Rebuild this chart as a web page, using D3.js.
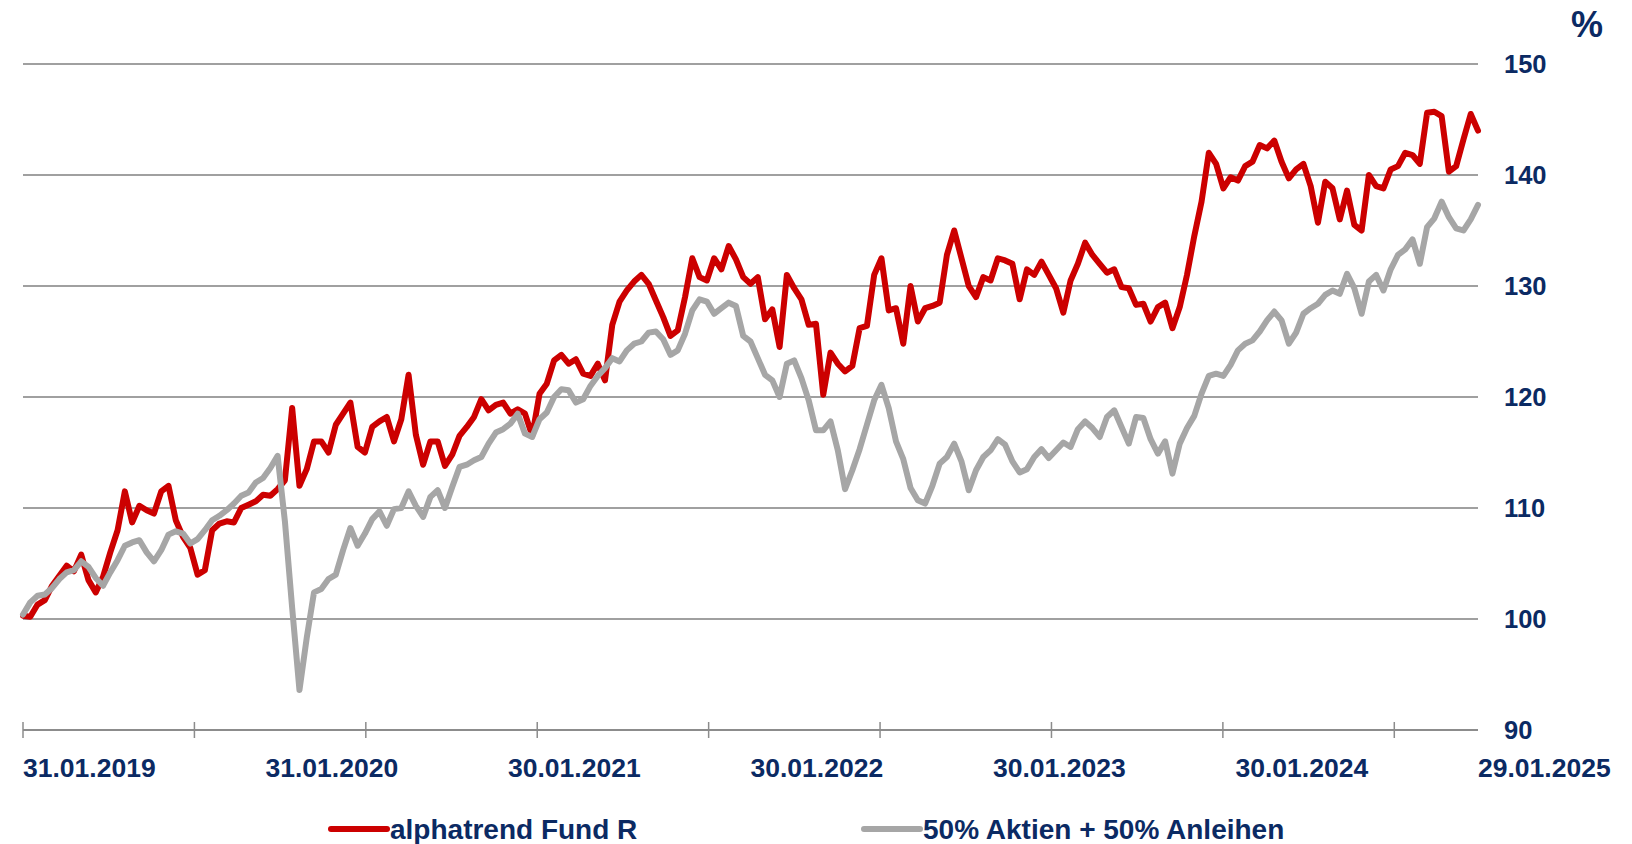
<!DOCTYPE html>
<html>
<head>
<meta charset="utf-8">
<script src="https://cdn.jsdelivr.net/npm/d3@7"></script>
<style>
  html, body { margin: 0; padding: 0; background: #fff; }
  svg { display: block; font-family: "Liberation Sans", Arial, sans-serif; font-weight: bold; }
</style>
</head>
<body>
<div id="chart"></div>
<script>
const colors = {
    fund: '#cc0000',
    bench: '#a6a6a6',
    grid: '#a0a0a0',
    axis: '#8c8c8c',
    text: '#0b2a63',
};

// first and last day of the series, values are evenly spaced in between
const startDate = new Date(2019, 0, 31);
const endDate = new Date(2025, 0, 29);

// alphatrend Fund R (indexed, start = 100)
const fundValues = [
    100.3, 100.2, 101.3, 101.7, 103.0, 103.9, 104.8, 104.3, 105.8, 103.5,
    102.4, 103.8, 106.0, 108.0, 111.5, 108.7, 110.2, 109.8, 109.5, 111.5,
    112.0, 108.9, 107.4, 106.4, 104.0, 104.4, 108.0, 108.6, 108.8, 108.7,
    110.0, 110.3, 110.6, 111.2, 111.1, 111.7, 112.5, 119.0, 112.0, 113.5,
    116.0, 116.0, 115.0, 117.5, 118.5, 119.5, 115.5, 115.0, 117.3, 117.8,
    118.2, 116.0, 118.0, 122.0, 116.6, 113.9, 116.0, 116.0, 113.8, 114.8,
    116.5, 117.3, 118.2, 119.8, 118.8, 119.3, 119.5, 118.5, 118.9, 118.5,
    116.5, 120.3, 121.2, 123.3, 123.8, 123.0, 123.4, 122.1, 121.9, 123.0,
    121.5, 126.5, 128.6, 129.6, 130.4, 131.0, 130.2, 128.7, 127.2, 125.5,
    126.0, 129.0, 132.5, 130.8, 130.5, 132.5, 131.5, 133.6, 132.4, 130.8,
    130.2, 130.8, 127.0, 127.9, 124.5, 131.0, 129.8, 128.8, 126.5, 126.6,
    120.2, 124.0, 123.0, 122.3, 122.8, 126.2, 126.4, 131.0, 132.5, 127.8,
    128.0, 124.8, 130.0, 126.8, 128.0, 128.2, 128.5, 132.8, 135.0, 132.5,
    130.0, 129.0, 130.8, 130.5, 132.5, 132.3, 132.0, 128.8, 131.5, 131.0,
    132.2, 131.0, 129.8, 127.6, 130.5, 132.0, 133.9, 132.8, 132.0, 131.2,
    131.5, 129.9, 129.8, 128.3, 128.4, 126.8, 128.1, 128.5, 126.2, 128.1,
    131.0, 134.5, 137.6, 142.0, 141.0, 138.8, 139.8, 139.5, 140.8, 141.2,
    142.7, 142.4, 143.1, 141.2, 139.7, 140.5, 141.0, 139.0, 135.7, 139.4,
    138.8, 136.0, 138.6, 135.5, 135.0, 140.0, 139.0, 138.8, 140.5, 140.8,
    142.0, 141.8, 141.0, 145.6, 145.7, 145.3, 140.3, 140.8, 143.2, 145.5, 144.0
];

// 50% Aktien + 50% Anleihen
const benchValues = [
    100.4, 101.5, 102.1, 102.2, 102.8, 103.6, 104.2, 104.4, 105.2, 104.7,
    103.7, 103.0, 104.2, 105.3, 106.6, 106.9, 107.1, 106.0, 105.2, 106.2,
    107.6, 107.9, 107.7, 106.8, 107.2, 108.0, 108.9, 109.3, 109.8, 110.4,
    111.1, 111.4, 112.3, 112.7, 113.6, 114.7, 108.8, 101.0, 93.6, 98.3,
    102.4, 102.7, 103.6, 104.0, 106.2, 108.2, 106.6, 107.7, 109.0, 109.7,
    108.4, 109.9, 110.0, 111.5, 110.2, 109.2, 111.0, 111.6, 110.0, 111.9,
    113.7, 113.9, 114.3, 114.6, 115.8, 116.8, 117.1, 117.6, 118.5, 116.7,
    116.4, 118.0, 118.6, 120.0, 120.7, 120.6, 119.5, 119.8, 121.0, 121.9,
    122.6, 123.5, 123.2, 124.2, 124.8, 125.0, 125.8, 125.9, 125.2, 123.8,
    124.2, 125.7, 127.8, 128.8, 128.6, 127.5, 128.0, 128.5, 128.2, 125.5,
    125.0, 123.5, 122.0, 121.5, 120.0, 123.0, 123.3, 121.7, 119.7, 117.0,
    117.0, 117.8, 115.2, 111.7, 113.4, 115.3, 117.5, 119.7, 121.1, 119.0,
    116.0, 114.4, 111.8, 110.7, 110.4, 112.0, 114.0, 114.6, 115.8, 114.2,
    111.6, 113.4, 114.6, 115.2, 116.2, 115.7, 114.2, 113.2, 113.5, 114.6,
    115.3, 114.5, 115.2, 115.9, 115.5, 117.1, 117.8, 117.2, 116.4, 118.2,
    118.8, 117.3, 115.8, 118.2, 118.1, 116.2, 114.9, 116.0, 113.1, 115.8,
    117.2, 118.3, 120.3, 121.9, 122.1, 121.9, 122.9, 124.2, 124.8, 125.1,
    125.9, 126.9, 127.7, 126.9, 124.8, 125.8, 127.5, 128.0, 128.4, 129.2,
    129.6, 129.3, 131.1, 129.8, 127.5, 130.4, 131.0, 129.6, 131.5, 132.8,
    133.3, 134.2, 132.0, 135.3, 136.1, 137.6, 136.2, 135.2, 135.0, 136.0, 137.3
];

const yTicks = [90, 100, 110, 120, 130, 140, 150];
const xLabels = ['31.01.2019', '31.01.2020', '30.01.2021', '30.01.2022', '30.01.2023', '30.01.2024', '29.01.2025'];
const tickStepDays = 258;   // spacing of the small axis ticks
const seriesNames = ['alphatrend Fund R', '50% Aktien + 50% Anleihen'];

const width = 1632, height = 844;
const plot = {left: 23, right: 1478, top: 64, bottom: 730};

const parseLabel = d3.timeParse('%d.%m.%Y');

const x = d3.scaleTime()
    .domain([startDate, endDate])
    .range([plot.left, plot.right]);

const y = d3.scaleLinear()
    .domain([90, 150])
    .range([plot.bottom, plot.top]);

const span = endDate - startDate;
const dateAt = (i, n) => new Date(+startDate + span * i / (n - 1));

const svg = d3.select('#chart').append('svg')
    .attr('width', width)
    .attr('height', height);

// horizontal grid lines
svg.append('g')
    .selectAll('line')
    .data(yTicks.filter(d => d > 90))
    .enter().append('line')
    .attr('x1', plot.left)
    .attr('x2', plot.right)
    .attr('y1', d => y(d))
    .attr('y2', d => y(d))
    .attr('stroke', colors.grid)
    .attr('stroke-width', 2);

// y labels on the right
svg.append('g')
    .selectAll('text')
    .data(yTicks)
    .enter().append('text')
    .attr('x', 1504)
    .attr('y', d => y(d))
    .attr('dy', '0.36em')
    .style('font-size', '25.5px')
    .attr('fill', colors.text)
    .text(d => d);

svg.append('text')
    .attr('x', 1571)
    .attr('y', 37)
    .style('font-size', '36px')
    .attr('fill', colors.text)
    .text('%');

// x axis with ticks crossing the line
const tickDates = d3.range(0, 9).map(k => d3.timeDay.offset(startDate, k * tickStepDays));
const xAxis = svg.append('g');
xAxis.append('line')
    .attr('x1', plot.left)
    .attr('x2', plot.right)
    .attr('y1', plot.bottom)
    .attr('y2', plot.bottom)
    .attr('stroke', colors.axis)
    .attr('stroke-width', 2);
xAxis.selectAll('.tick')
    .data(tickDates)
    .enter().append('line')
    .attr('class', 'tick')
    .attr('x1', d => x(d))
    .attr('x2', d => x(d))
    .attr('y1', plot.bottom - 8)
    .attr('y2', plot.bottom + 8)
    .attr('stroke', colors.axis)
    .attr('stroke-width', 1.5);
xAxis.selectAll('text')
    .data(xLabels)
    .enter().append('text')
    .attr('x', d => x(parseLabel(d)))
    .attr('y', 777)
    .style('font-size', '26.5px')
    .attr('fill', colors.text)
    .text(d => d);

// series
const line = d3.line()
    .x((d, i, arr) => x(dateAt(i, arr.length)))
    .y(d => y(d))
    .curve(d3.curveLinear);

svg.append('path')
    .datum(fundValues)
    .attr('d', line)
    .attr('fill', 'none')
    .attr('stroke', colors.fund)
    .attr('stroke-width', 6)
    .attr('stroke-linejoin', 'round')
    .attr('stroke-linecap', 'round');

svg.append('path')
    .datum(benchValues)
    .attr('d', line)
    .attr('fill', 'none')
    .attr('stroke', colors.bench)
    .attr('stroke-width', 6)
    .attr('stroke-linejoin', 'round')
    .attr('stroke-linecap', 'round');

// legend
const legend = svg.append('g');
const legendItems = [
    {name: seriesNames[0], color: colors.fund, x: 331},
    {name: seriesNames[1], color: colors.bench, x: 864},
];
legendItems.forEach(d => {
    legend.append('line')
        .attr('x1', d.x)
        .attr('x2', d.x + 56)
        .attr('y1', 829)
        .attr('y2', 829)
        .attr('stroke', d.color)
        .attr('stroke-width', 6)
        .attr('stroke-linecap', 'round');
    legend.append('text')
        .attr('x', d.x + 59)
        .attr('y', 829)
        .attr('dy', '0.36em')
        .style('font-size', '28px')
        .attr('fill', colors.text)
        .text(d.name);
});
</script>
</body>
</html>
